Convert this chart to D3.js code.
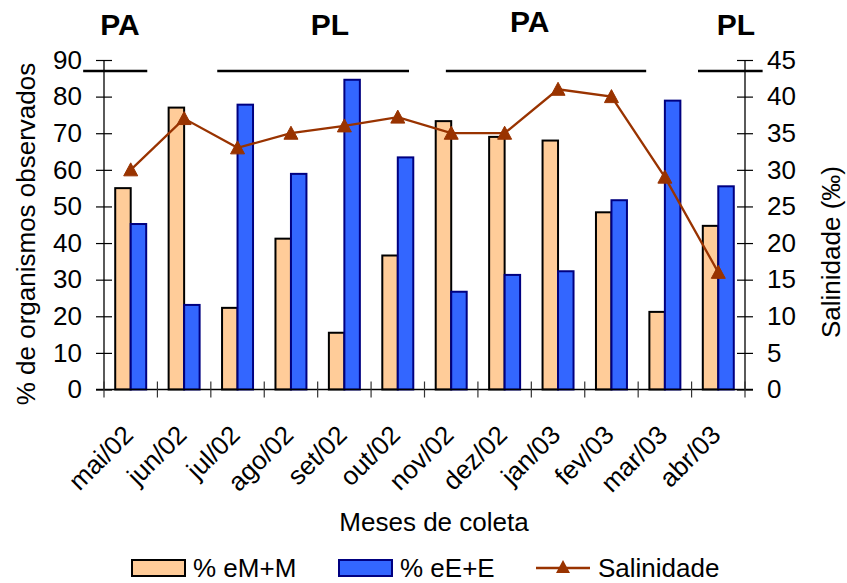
<!DOCTYPE html>
<html>
<head>
<meta charset="utf-8">
<script src="https://cdn.jsdelivr.net/npm/d3@7"></script>
<style>
  html, body { margin: 0; padding: 0; background: #fff; }
  svg { display: block; font-family: "Liberation Sans", Arial, sans-serif; }
</style>
</head>
<body>
<svg id="chart" width="847" height="583"></svg>
<script>
// Monthly collections, May 2002 – April 2003
const months = ["mai/02", "jun/02", "jul/02", "ago/02", "set/02", "out/02",
                "nov/02", "dez/02", "jan/03", "fev/03", "mar/03", "abr/03"];
// % of organisms at stages eM+M and eE+E
const eMM = [55, 77, 22.3, 41.2, 15.5, 36.6, 73.3, 69, 68, 48.4, 21.2, 44.7];
const eEE = [45.2, 23.1, 77.8, 58.9, 84.6, 63.4, 26.7, 31.3, 32.3, 51.7, 78.9, 55.5];
// Salinity (‰)
const salinity = [30, 37, 33, 35, 36, 37.2, 35, 35, 41, 40, 29, 16];
// Left and right axis ticks
const leftTicks = [0, 10, 20, 30, 40, 50, 60, 70, 80, 90];
const rightTicks = [0, 5, 10, 15, 20, 25, 30, 35, 40, 45];
// Seasonal periods (PA / PL) spanning month positions
const periodNames = ["PA", "PL", "PA", "PL"];
const periodStart = [-0.39, 2.12, 6.40, 11.12];
const periodEnd = [0.81, 5.71, 10.15, 12.33];
const periodLabelAt = [0.3, 4.23, 7.97, 11.83];

const svg = d3.select("#chart");
const plot = { left: 104, right: 745, top: 60, bottom: 389.5 };
const labelBaseline = [35, 35, 32, 35];

const x = d3.scaleBand().domain(months).range([plot.left, plot.right])
  .paddingInner(0.42).paddingOuter(0.21);
const xPos = d3.scaleLinear().domain([0, months.length]).range([plot.left, plot.right]);
const series = ["eMM", "eEE"];
const x1 = d3.scaleBand().domain(series).range([0, x.bandwidth()]);
const yL = d3.scaleLinear().domain([0, 90]).range([plot.bottom, plot.top]);
const yR = d3.scaleLinear().domain([0, 45]).range([plot.bottom, plot.top]);

const fills = { eMM: "#FFCC99", eEE: "#3366FF" };
const strokes = { eMM: "#000000", eEE: "#000080" };
const lineColor = "#993300";
const fontSize = 26;

// Bars
const rows = months.map((m, i) => ({ m, eMM: eMM[i], eEE: eEE[i] }));
const groups = svg.append("g").selectAll("g").data(rows).join("g")
  .attr("transform", d => `translate(${x(d.m)},0)`);
groups.selectAll("rect")
  .data(d => series.map(k => ({ k, v: d[k] })))
  .join("rect")
  .attr("x", d => x1(d.k))
  .attr("y", d => yL(d.v))
  .attr("width", x1.bandwidth())
  .attr("height", d => yL(0) - yL(d.v))
  .attr("fill", d => fills[d.k])
  .attr("stroke", d => strokes[d.k])
  .attr("stroke-width", 2);

// Left axis
const axL = svg.append("g").attr("transform", `translate(${plot.left},0)`)
  .call(d3.axisLeft(yL).tickValues(leftTicks).tickSize(8).tickPadding(14));
axL.select(".domain").remove();
axL.append("line").attr("x1", 0).attr("x2", 0).attr("y1", plot.top).attr("y2", plot.bottom)
  .attr("stroke", "#000").attr("stroke-width", 1.3);
axL.selectAll(".tick line").attr("x1", -8).attr("x2", 8).attr("stroke", "#000").attr("stroke-width", 1.2);
axL.selectAll(".tick text").attr("font-size", fontSize).attr("fill", "#000")
  .attr("font-family", "Liberation Sans, Arial, sans-serif");

// Right axis
const axR = svg.append("g").attr("transform", `translate(${plot.right},0)`)
  .call(d3.axisRight(yR).tickValues(rightTicks).tickSize(8).tickPadding(14));
axR.select(".domain").remove();
axR.append("line").attr("x1", 0).attr("x2", 0).attr("y1", plot.top).attr("y2", plot.bottom)
  .attr("stroke", "#000").attr("stroke-width", 1.3);
axR.selectAll(".tick line").attr("x1", -8).attr("x2", 8).attr("stroke", "#000").attr("stroke-width", 1.2);
axR.selectAll(".tick text").attr("font-size", fontSize).attr("fill", "#000")
  .attr("font-family", "Liberation Sans, Arial, sans-serif");

// Bottom axis: category boundaries as crossing ticks
const axB = svg.append("g").attr("transform", `translate(0,${plot.bottom})`);
axB.append("line").attr("x1", plot.left - 8).attr("x2", plot.right + 8)
  .attr("stroke", "#000").attr("stroke-width", 1.5);
axB.selectAll("line.tk").data(d3.range(months.length + 1)).join("line")
  .attr("class", "tk")
  .attr("x1", i => xPos(i)).attr("x2", i => xPos(i))
  .attr("y1", -8).attr("y2", 8)
  .attr("stroke", "#333").attr("stroke-width", 1.2);
axB.selectAll("text").data(months).join("text")
  .attr("transform", (m, i) => `translate(${xPos(i + 0.5) + 4},${47}) rotate(-45)`)
  .attr("text-anchor", "end")
  .attr("font-size", fontSize)
  .attr("fill", "#000")
  .text(m => m);

// Salinity line with triangle markers
const cx = i => xPos(i + 0.5);
svg.append("path")
  .datum(salinity)
  .attr("fill", "none")
  .attr("stroke", lineColor)
  .attr("stroke-width", 2.3)
  .attr("d", d3.line().x((d, i) => cx(i)).y(d => yR(d)));
const tri = "M0,-7 L7,6 L-7,6 Z";
svg.append("g").selectAll("path").data(salinity).join("path")
  .attr("transform", (d, i) => `translate(${cx(i)},${yR(d)})`)
  .attr("d", tri)
  .attr("fill", lineColor)
  .attr("stroke", lineColor)
  .attr("stroke-width", 1);

// Season periods
periodNames.forEach((name, i) => {
  svg.append("line")
    .attr("x1", xPos(periodStart[i])).attr("x2", xPos(periodEnd[i]))
    .attr("y1", 71).attr("y2", 71)
    .attr("stroke", "#000").attr("stroke-width", 2.5);
  svg.append("text")
    .attr("x", xPos(periodLabelAt[i])).attr("y", labelBaseline[i])
    .attr("text-anchor", "middle")
    .attr("font-size", 30).attr("font-weight", "bold")
    .attr("fill", "#000")
    .text(name);
});

// Axis titles
svg.append("text")
  .attr("transform", "translate(35,234) rotate(-90)")
  .attr("text-anchor", "middle").attr("font-size", fontSize).attr("fill", "#000")
  .text("% de organismos observados");
svg.append("text")
  .attr("transform", "translate(840,252) rotate(-90)")
  .attr("text-anchor", "middle").attr("font-size", fontSize).attr("fill", "#000")
  .text("Salinidade (‰)");
svg.append("text")
  .attr("x", 434).attr("y", 531)
  .attr("text-anchor", "middle").attr("font-size", fontSize).attr("fill", "#000")
  .text("Meses de coleta");

// Legend
const lg = svg.append("g");
const legendY = 568;
lg.append("rect").attr("x", 132).attr("y", 560).attr("width", 53).attr("height", 16)
  .attr("fill", fills.eMM).attr("stroke", strokes.eMM).attr("stroke-width", 2);
lg.append("text").attr("x", 193).attr("y", legendY + 9).attr("font-size", fontSize)
  .attr("fill", "#000").text("% eM+M");
lg.append("rect").attr("x", 339).attr("y", 560).attr("width", 53).attr("height", 16)
  .attr("fill", fills.eEE).attr("stroke", strokes.eEE).attr("stroke-width", 2);
lg.append("text").attr("x", 400).attr("y", legendY + 9).attr("font-size", fontSize)
  .attr("fill", "#000").text("% eE+E");
lg.append("line").attr("x1", 536).attr("x2", 590).attr("y1", legendY).attr("y2", legendY)
  .attr("stroke", lineColor).attr("stroke-width", 2.3);
lg.append("path").attr("transform", `translate(563,${legendY - 1})`).attr("d", tri)
  .attr("fill", lineColor);
lg.append("text").attr("x", 598).attr("y", legendY + 9).attr("font-size", fontSize)
  .attr("fill", "#000").text("Salinidade");
</script>
</body>
</html>
